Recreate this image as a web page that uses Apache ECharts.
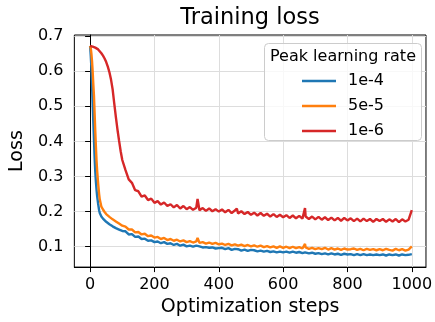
<!DOCTYPE html>
<html>
<head>
<meta charset="utf-8">
<script src="https://cdn.jsdelivr.net/npm/echarts@6/dist/echarts.min.js"></script>
<style>
  html, body { margin: 0; padding: 0; background: #fff; }
  #chart { width: 435px; height: 322px; }
</style>
</head>
<body>
<div id="chart"></div>
<script>
const seriesNames = ['1e-4', '5e-5', '1e-6']
const xTicks = [0, 200, 400, 600, 800, 1000]
const yTicks = [0.1, 0.2, 0.3, 0.4, 0.5, 0.6, 0.7]

// x positions shared by all three runs
const steps = [
  0, 2, 4, 6, 8, 10, 12, 14, 16, 18, 20, 22, 25, 28, 30, 35, 40, 45, 50, 55, 60, 65, 70, 75, 80, 85, 90, 95, 100,
  110, 120, 130, 140, 150, 160, 170, 180, 190, 200,
  210, 220, 230, 240, 250, 260, 270, 280, 290, 300,
  310, 320, 330, 334, 340, 350, 360, 370, 380, 390, 400,
  410, 420, 430, 440, 450, 456, 460, 470, 480, 490, 500,
  510, 520, 530, 540, 550, 560, 570, 580, 590, 600,
  610, 620, 630, 640, 650, 660, 668, 670, 680, 690, 700,
  710, 720, 730, 740, 750, 760, 770, 780, 790, 800,
  810, 820, 830, 840, 850, 860, 870, 880, 890, 900,
  910, 920, 930, 940, 950, 960, 970, 980, 990, 1000
]

const loss1e4 = [
  .672, .645, .610, .560, .505, .455, .405, .355, .315, .285, .262, .243, .222, .204, .196, .186, .180, .175, .171, .167, .164, .162, .158, .157, .153, .152, .149, .148, .145,
  .144, .135, .136, .128, .129, .122, .123, .117, .118, .113,
  .115, .110, .113, .108, .110, .105, .108, .103, .106, .101,
  .103, .100, .103, .099, .101, .098, .099, .097, .098, .095, .096,
  .097, .093, .096, .091, .094, .090, .093, .089, .092, .088, .091,
  .090, .087, .089, .086, .088, .085, .087, .084, .086, .084,
  .086, .083, .086, .083, .085, .082, .084, .083, .081, .083, .080,
  .082, .079, .081, .078, .081, .078, .080, .077, .080, .078,
  .079, .076, .079, .076, .079, .076, .078, .076, .078, .076,
  .078, .075, .078, .076, .078, .075, .078, .076, .077, .079
]

const loss5e5 = [
  .672, .666, .650, .628, .598, .562, .530, .480, .430, .385, .345, .315, .280, .250, .235, .214, .206, .199, .193, .188, .185, .181, .178, .175, .172, .168, .166, .163, .160,
  .157, .149, .149, .141, .142, .135, .137, .130, .132, .126,
  .128, .122, .125, .119, .122, .117, .120, .115, .118, .113,
  .116, .112, .115, .125, .111, .113, .109, .112, .108, .111, .107,
  .109, .105, .108, .104, .107, .108, .103, .106, .102, .105, .101,
  .104, .100, .103, .099, .102, .098, .101, .097, .101, .097,
  .100, .096, .100, .096, .099, .095, .108, .098, .094, .097, .093,
  .096, .093, .097, .092, .096, .092, .095, .091, .095, .092,
  .093, .095, .091, .094, .090, .094, .091, .093, .090, .093,
  .090, .094, .091, .089, .094, .090, .093, .089, .092, .101
]

const loss1e6 = [
  .672, .672, .671, .671, .670, .670, .669, .668, .667, .666, .665, .664, .662, .659, .657, .651, .644, .636, .626, .613, .597, .576, .548, .508, .470, .434, .402, .372, .347,
  .318, .292, .282, .261, .258, .243, .246, .233, .237, .225,
  .230, .220, .226, .216, .221, .212, .219, .209, .216, .207,
  .213, .205, .211, .236, .204, .210, .202, .209, .201, .207, .200,
  .206, .198, .205, .196, .203, .209, .195, .201, .193, .199, .191,
  .197, .189, .196, .188, .194, .186, .193, .185, .191, .184,
  .190, .182, .189, .181, .188, .180, .210, .186, .179, .186, .178,
  .185, .177, .184, .176, .183, .175, .182, .174, .182, .175,
  .181, .173, .180, .172, .180, .173, .179, .171, .179, .173,
  .179, .171, .178, .172, .179, .170, .178, .172, .177, .204
]

const colors = ['#1f77b4', '#ff7f0e', '#d62728']
const font = 'DejaVu Sans'

const chart = echarts.init(document.getElementById('chart'), null, { renderer: 'canvas' })

function pairs(vals) {
  return steps.map((s, i) => [s, vals[i]])
}

const option = {
  animation: false,
  backgroundColor: '#fff',
  grid: {
    left: 70,
    right: 7,
    top: 35,
    bottom: 52,
    show: true,
    borderColor: '#000',
    borderWidth: 1
  },
  graphic: [
    {
      type: 'text',
      x: 250,
      y: 18,
      style: { text: 'Training loss', font: '22.5px "DejaVu Sans"', fill: '#000', align: 'center', verticalAlign: 'middle' }
    },
    {
      type: 'rect',
      z: 3,
      shape: { x: 264.5, y: 43.5, width: 157, height: 97, r: 4 },
      style: { fill: 'rgba(255,255,255,0.8)', stroke: '#cccccc', lineWidth: 1 }
    },
    {
      type: 'text',
      z: 5,
      x: 343,
      y: 57,
      style: { text: 'Peak learning rate', font: '16px "DejaVu Sans"', fill: '#000', align: 'center', verticalAlign: 'middle' }
    }
  ],
  legend: {
    data: seriesNames,
    orient: 'vertical',
    left: 302,
    top: 73,
    padding: 0,
    icon: 'rect',
    itemWidth: 34,
    itemHeight: 2.6,
    itemGap: 9,
    textStyle: { fontFamily: font, fontSize: 16, lineHeight: 14, color: '#000', padding: [0, 0, 0, 7] }
  },
  xAxis: {
    type: 'value',
    min: -49,
    max: 1044,
    name: 'Optimization steps',
    nameLocation: 'middle',
    nameGap: 30,
    nameTextStyle: { fontFamily: font, fontSize: 19, color: '#000' },
    axisLine: { show: true, lineStyle: { color: '#000', width: 1 } },
    axisTick: { show: true, length: 5, customValues: xTicks, lineStyle: { color: '#000' } },
    axisLabel: {
      customValues: xTicks,
      margin: 10,
      fontFamily: font,
      fontSize: 16,
      color: '#000',
      formatter: v => String(v)
    },
    splitLine: { show: true, lineStyle: { color: '#dddddd', width: 1 } }
  },
  yAxis: {
    type: 'value',
    min: 0.042,
    max: 0.703,
    name: 'Loss',
    nameLocation: 'middle',
    nameGap: 46,
    nameTextStyle: { fontFamily: font, fontSize: 19, color: '#000' },
    axisLine: { show: true, lineStyle: { color: '#000', width: 1 } },
    axisTick: { show: true, length: 5, customValues: yTicks, lineStyle: { color: '#000' } },
    axisLabel: {
      customValues: yTicks,
      margin: 11,
      fontFamily: font,
      fontSize: 16,
      color: '#000',
      formatter: v => v.toFixed(1)
    },
    splitLine: { show: true, lineStyle: { color: '#dddddd', width: 1 } }
  },
  series: [loss1e4, loss5e5, loss1e6].map((vals, i) => ({
    name: seriesNames[i],
    type: 'line',
    data: pairs(vals),
    showSymbol: false,
    symbol: 'none',
    color: colors[i],
    lineStyle: { color: colors[i], width: 2.4 },
    z: 2 + i
  }))
}

chart.setOption(option)
</script>
</body>
</html>
